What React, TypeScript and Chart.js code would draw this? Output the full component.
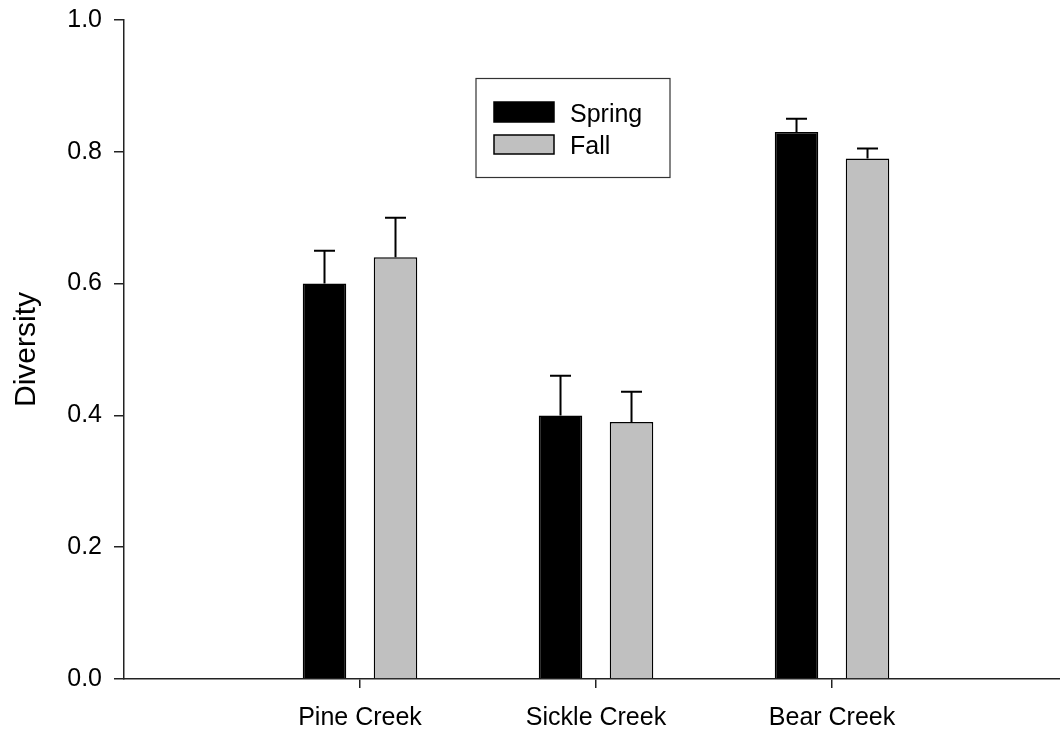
import { useEffect, useRef } from "react";
import { Chart, registerables } from "chart.js";

Chart.register(...registerables);

// Site names along the x axis
const sites = ["Pine Creek", "Sickle Creek", "Bear Creek"];
// Seasonal mean diversity and standard error per site
const springMean = [0.6, 0.4, 0.83];
const springErr = [0.05, 0.06, 0.02];
const fallMean = [0.64, 0.39, 0.79];
const fallErr = [0.06, 0.046, 0.015];
const seriesNames = ["Spring", "Fall"];
const seriesColors = ["#000000", "#c0c0c0"];
const yTicks = [0, 0.2, 0.4, 0.6, 0.8, 1.0];

const FONT = '"Liberation Sans", Arial, Helvetica, sans-serif';

// Upper error whiskers with a short cap
const errorBars = {
  id: "errorBars",
  afterDatasetsDraw(chart: any) {
    const { ctx } = chart;
    const yScale = chart.scales.y;
    const errs = [springErr, fallErr];
    const means = [springMean, fallMean];
    ctx.save();
    ctx.strokeStyle = "#000";
    ctx.lineWidth = 2;
    chart.data.datasets.forEach((_: any, di: number) => {
      const meta = chart.getDatasetMeta(di);
      meta.data.forEach((bar: any, i: number) => {
        const x = bar.x;
        const yTop = yScale.getPixelForValue(means[di][i] + errs[di][i]);
        const yBase = yScale.getPixelForValue(means[di][i]);
        ctx.beginPath();
        ctx.moveTo(x, yBase);
        ctx.lineTo(x, yTop);
        ctx.moveTo(x - 10.5, yTop);
        ctx.lineTo(x + 10.5, yTop);
        ctx.stroke();
      });
    });
    ctx.restore();
  },
};

// Boxed legend inside the plot area
const boxLegend = {
  id: "boxLegend",
  afterDraw(chart: any) {
    const { ctx } = chart;
    ctx.save();
    ctx.strokeStyle = "#333";
    ctx.lineWidth = 1.2;
    ctx.strokeRect(476, 78.5, 194, 99);
    const rows = [
      { y: 102, h: 20, base: 122 },
      { y: 135, h: 19, base: 154 },
    ];
    rows.forEach((r, i) => {
      ctx.fillStyle = seriesColors[i];
      ctx.fillRect(494, r.y, 60, r.h);
      ctx.strokeStyle = "#000";
      ctx.lineWidth = 1.5;
      ctx.strokeRect(494, r.y, 60, r.h);
      ctx.fillStyle = "#000";
      ctx.font = `25px ${FONT}`;
      ctx.textBaseline = "alphabetic";
      ctx.textAlign = "left";
      ctx.fillText(seriesNames[i], 570, r.base);
    });
    ctx.restore();
  },
};

export default function App() {
  const canvasRef = useRef<HTMLCanvasElement | null>(null);

  useEffect(() => {
    if (!canvasRef.current) return;
    const barOpts = {
      categoryPercentage: 0.6017,
      barPercentage: 0.613,
      borderColor: "#000",
      borderWidth: 1.5,
    };
    const chart = new Chart(canvasRef.current, {
      type: "bar",
      data: {
        datasets: [
          {
            label: seriesNames[0],
            data: sites.map((_, i) => ({ x: i + 1, y: springMean[i] })),
            backgroundColor: seriesColors[0],
            ...barOpts,
          },
          {
            label: seriesNames[1],
            data: sites.map((_, i) => ({ x: i + 1, y: fallMean[i] })),
            backgroundColor: seriesColors[1],
            ...barOpts,
          },
        ],
      },
      plugins: [errorBars, boxLegend],
      options: {
        animation: false,
        responsive: true,
        maintainAspectRatio: false,
        layout: { padding: { top: 20, left: 0, right: 0, bottom: 0 } },
        plugins: {
          legend: { display: false },
          tooltip: { enabled: false },
        },
        scales: {
          x: {
            type: "linear",
            min: 0,
            max: 3.966,
            offset: false,
            afterBuildTicks: (scale: any) => {
              scale.ticks = sites.map((_, i) => ({ value: i + 1 }));
            },
            afterFit: (scale: any) => {
              scale.height = 54;
              scale.paddingLeft = 0;
              scale.paddingRight = 0;
            },
            ticks: {
              autoSkip: false,
              maxRotation: 0,
              padding: 15,
              color: "#000",
              font: { family: FONT, size: 25 },
              callback: (v: any) => sites[Math.round(Number(v)) - 1] ?? "",
            },
            grid: {
              offset: false,
              drawOnChartArea: false,
              drawTicks: true,
              tickLength: 9,
              color: "#222",
              lineWidth: 1.5,
            },
            border: { display: true, color: "#222", width: 1.5 },
          },
          y: {
            min: 0,
            max: 1,
            afterBuildTicks: (scale: any) => {
              scale.ticks = yTicks.map((v) => ({ value: v }));
            },
            afterFit: (scale: any) => {
              scale.width = 124;
              scale.paddingTop = 0;
              scale.paddingBottom = 0;
            },
            ticks: {
              padding: 12,
              color: "#000",
              font: { family: FONT, size: 25 },
              callback: (v: any) => Number(v).toFixed(1),
            },
            grid: {
              drawOnChartArea: false,
              drawTicks: true,
              tickLength: 10,
              color: "#222",
              lineWidth: 1.5,
            },
            border: { display: true, color: "#222", width: 1.5 },
            title: {
              display: true,
              text: "Diversity",
              color: "#000",
              font: { family: FONT, size: 30 },
              padding: { top: 9, bottom: 0 },
            },
          },
        },
      },
    } as any);
    return () => chart.destroy();
  }, []);

  return (
    <div style={{ position: "absolute", left: 0, top: 0, width: 1060, height: 733, background: "#fff" }}>
      <canvas ref={canvasRef} />
    </div>
  );
}
